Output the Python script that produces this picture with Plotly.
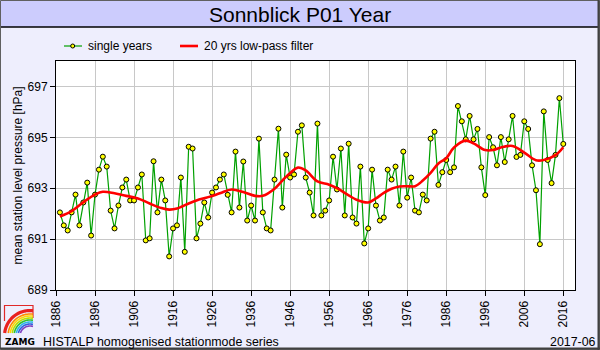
import math
import plotly.graph_objects as go

# ---- data -------------------------------------------------------------
years = list(range(1887, 2017))

pressure = [
    692.05, 691.54, 691.34, 692.05, 692.75, 691.54, 692.44, 693.22, 691.14, 692.75,  # 1887-1896
    693.73, 694.24, 693.85, 692.12, 691.42, 692.32, 693.03, 693.34, 692.52, 692.52,  # 1897-1906
    693.03, 693.54, 690.95, 691.03, 694.06, 692.05, 693.34, 692.52, 690.32, 691.42,  # 1907-1916
    691.54, 693.42, 690.50, 694.63, 694.56, 691.03, 691.61, 692.44, 691.85, 692.83,  # 1917-1926
    693.03, 693.34, 693.54, 692.74, 692.05, 694.44, 692.24, 694.05, 691.73, 692.32,  # 1927-1936
    691.73, 694.95, 692.05, 691.42, 691.34, 693.34, 695.34, 692.24, 694.32, 693.42,  # 1937-1946
    693.54, 695.22, 695.47, 693.42, 692.83, 691.93, 695.54, 691.93, 692.12, 692.52,  # 1947-1956
    694.24, 692.95, 694.56, 691.93, 694.75, 691.85, 691.61, 693.85, 690.83, 691.42,  # 1957-1966
    693.73, 692.32, 691.73, 691.85, 693.73, 693.34, 693.85, 692.32, 694.44, 692.63,  # 1967-1976
    693.42, 692.12, 692.05, 692.75, 692.52, 694.95, 695.22, 693.13, 693.63, 694.11,  # 1977-1986
    693.63, 693.82, 696.23, 695.63, 694.92, 695.84, 694.92, 695.33, 693.82, 692.73,  # 1987-1996
    695.01, 694.61, 693.90, 695.01, 694.03, 694.92, 695.84, 694.23, 694.31, 695.63,  # 1997-2006
    695.33, 693.90, 692.92, 690.80, 696.02, 694.11, 693.20, 694.31, 696.54, 694.74,  # 2007-2016
]

# 20-year low-pass filter, sampled at selected years
filter_years = [1887, 1890, 1893, 1896, 1898, 1901, 1904, 1907, 1910, 1913, 1915,
                1917, 1920, 1922, 1925, 1928, 1931, 1934, 1937, 1939, 1942, 1944,
                1946, 1948, 1950, 1953, 1956, 1958, 1961, 1963, 1966, 1968, 1970,
                1972, 1974, 1976, 1978, 1980, 1982, 1984, 1986, 1988, 1991, 1993,
                1996, 1998, 2000, 2003, 2006, 2009, 2011, 2014, 2016]
filter_values = [691.89, 692.10, 692.45, 692.75, 692.86, 692.80, 692.70, 692.60,
                 692.40, 692.22, 692.16, 692.20, 692.40, 692.52, 692.65, 692.80,
                 692.95, 692.85, 692.70, 692.70, 692.98, 693.30, 693.60, 693.81,
                 693.70, 693.27, 693.14, 693.00, 692.72, 692.55, 692.44, 692.60,
                 692.82, 692.98, 693.07, 693.08, 693.08, 693.30, 693.60, 693.97,
                 694.18, 694.60, 694.87, 694.76, 694.50, 694.50, 694.60, 694.66,
                 694.40, 694.10, 694.11, 694.30, 694.61]

x_ticks = list(range(1886, 2017, 10))
y_ticks = [689, 691, 693, 695, 697]

# ---- page geometry (pixels) --------------------------------------------
W, H = 600, 350
L, R, T, B = 56, 25, 61, 60
PW, PH = W - L - R, H - T - B
FONT = "Liberation Sans, Arial, sans-serif"


def fx(x):
    return (x - L) / PW


def fy(y):
    return (H - B - y) / PH


fig = go.Figure()

fig.add_trace(go.Scatter(
    x=years, y=pressure, mode="lines+markers", name="single years",
    line=dict(color="#00A000", width=1.2),
    marker=dict(size=5, color="#FFFF00", line=dict(color="#000000", width=1)),
    showlegend=False,
))
fig.add_trace(go.Scatter(
    x=filter_years, y=filter_values, mode="lines", name="20 yrs low-pass filter",
    line=dict(color="#FF0000", width=2.6, shape="spline", smoothing=1.0),
    showlegend=False,
))

shapes = []
annotations = []

# title band
shapes.append(dict(type="rect", xref="paper", yref="paper", layer="below",
                   x0=fx(0), x1=fx(W), y0=fy(0), y1=fy(27),
                   fillcolor="#CCCCFD", line=dict(width=0)))
shapes.append(dict(type="line", xref="paper", yref="paper",
                   x0=fx(0), x1=fx(W), y0=fy(27), y1=fy(27),
                   line=dict(color="#000000", width=1.5)))
annotations.append(dict(xref="paper", yref="paper", x=fx(300), y=fy(14),
                        text="Sonnblick P01 Year", showarrow=False,
                        font=dict(family=FONT, size=21, color="#000000"),
                        xanchor="center", yanchor="middle"))

# outer frame
shapes.append(dict(type="rect", xref="paper", yref="paper",
                   x0=fx(0.5), x1=fx(599.5), y0=fy(0.5), y1=fy(349.5),
                   line=dict(color="#606060", width=1)))
shapes.append(dict(type="line", xref="paper", yref="paper",
                   x0=fx(598.5), x1=fx(598.5), y0=fy(0), y1=fy(350),
                   line=dict(color="#404040", width=2)))
shapes.append(dict(type="line", xref="paper", yref="paper",
                   x0=fx(0), x1=fx(600), y0=fy(348.5), y1=fy(348.5),
                   line=dict(color="#404040", width=2)))

# legend
LY = 46
shapes.append(dict(type="line", xref="paper", yref="paper",
                   x0=fx(64), x1=fx(82), y0=fy(LY), y1=fy(LY),
                   line=dict(color="#00A000", width=1.2)))
shapes.append(dict(type="circle", xref="paper", yref="paper",
                   x0=fx(70.7), x1=fx(74.7), y0=fy(LY - 2), y1=fy(LY + 2),
                   fillcolor="#FFFF00", line=dict(color="#000000", width=1)))
annotations.append(dict(xref="paper", yref="paper", x=fx(86), y=fy(LY),
                        text="single years", showarrow=False,
                        font=dict(family=FONT, size=12, color="#000000"),
                        xanchor="left", yanchor="middle"))
shapes.append(dict(type="line", xref="paper", yref="paper",
                   x0=fx(180), x1=fx(198), y0=fy(LY), y1=fy(LY),
                   line=dict(color="#FF0000", width=2.6)))
annotations.append(dict(xref="paper", yref="paper", x=fx(202), y=fy(LY),
                        text="20 yrs low-pass filter", showarrow=False,
                        font=dict(family=FONT, size=12, color="#000000"),
                        xanchor="left", yanchor="middle"))

# y axis title
annotations.append(dict(xref="paper", yref="paper", x=fx(17), y=fy(175.5),
                        text="mean station level pressure [hPa]", showarrow=False,
                        textangle=-90,
                        font=dict(family=FONT, size=12, color="#000000"),
                        xanchor="center", yanchor="middle"))

# footer
annotations.append(dict(xref="paper", yref="paper", x=fx(3), y=fy(342),
                        text="<b>ZAMG</b>", showarrow=False,
                        font=dict(family="DejaVu Sans, sans-serif", size=9, color="#000000"),
                        xanchor="left", yanchor="middle"))
annotations.append(dict(xref="paper", yref="paper", x=fx(40.5), y=fy(342),
                        text="HISTALP homogenised stationmode series", showarrow=False,
                        font=dict(family=FONT, size=12.4, color="#000000"),
                        xanchor="left", yanchor="middle"))
annotations.append(dict(xref="paper", yref="paper", x=fx(597.5), y=fy(342),
                        text="2017-06", showarrow=False,
                        font=dict(family=FONT, size=12.4, color="#000000"),
                        xanchor="right", yanchor="middle"))

# logo: red frame with rainbow arcs
BX0, BX1, BY0, BY1 = 4.5, 33, 305.5, 333
shapes.append(dict(type="path", xref="paper", yref="paper",
                   path=f"M {fx(BX0)},{fy(321)} L {fx(BX0)},{fy(BY0)} "
                        f"L {fx(BX1)},{fy(BY0)} L {fx(BX1)},{fy(318)}",
                   line=dict(color="#E02828", width=1.2)))
CX, CY = 30.0, 336.0
arcs = [(25.5, "#E82020", 3.2), (22.0, "#FF8A00", 1.6), (20.0, "#FFD800", 1.6),
        (18.0, "#B8E000", 1.6), (16.0, "#30C030", 1.6), (14.0, "#30B8E8", 1.6),
        (12.0, "#3060E0", 1.6), (10.0, "#8040C0", 1.6)]
for r, col, w in arcs:
    a_start = math.pi - math.asin(min(1.0, (CY - BY1) / r))
    a_end = math.acos(min(1.0, (BX1 - CX) / r))
    n = 24
    pts = []
    for i in range(n + 1):
        a = a_start + (a_end - a_start) * i / n
        px = CX + r * math.cos(a)
        py = CY - r * math.sin(a)
        pts.append(f"{fx(px):.5f},{fy(py):.5f}")
    shapes.append(dict(type="path", xref="paper", yref="paper",
                       path="M " + " L ".join(pts),
                       line=dict(color=col, width=w)))

fig.update_layout(
    width=W, height=H,
    margin=dict(l=L, r=R, t=T, b=B, pad=0),
    paper_bgcolor="#EEEEFD",
    plot_bgcolor="#FFFFFF",
    showlegend=False,
    shapes=shapes,
    annotations=annotations,
    font=dict(family=FONT, size=12, color="#000000"),
)

fig.update_xaxes(
    range=[1886, 2019], tickmode="array", tickvals=x_ticks,
    ticktext=[str(v) for v in x_ticks], tickangle=-90,
    ticks="outside", ticklen=5, tickcolor="#000000", tickwidth=1,
    showgrid=True, gridcolor="#C8C8C8", gridwidth=1, zeroline=False,
    showline=True, linecolor="#000000", linewidth=1, mirror=True,
    tickfont=dict(family=FONT, size=12, color="#000000"),
)
fig.update_yaxes(
    range=[689, 698], tickmode="array", tickvals=y_ticks,
    ticktext=[str(v) for v in y_ticks],
    ticks="outside", ticklen=5, tickcolor="#000000", tickwidth=1,
    showgrid=True, gridcolor="#C8C8C8", gridwidth=1, zeroline=False,
    showline=True, linecolor="#000000", linewidth=1, mirror=True,
    tickfont=dict(family=FONT, size=12, color="#000000"),
)

fig.write_html("out.html")
